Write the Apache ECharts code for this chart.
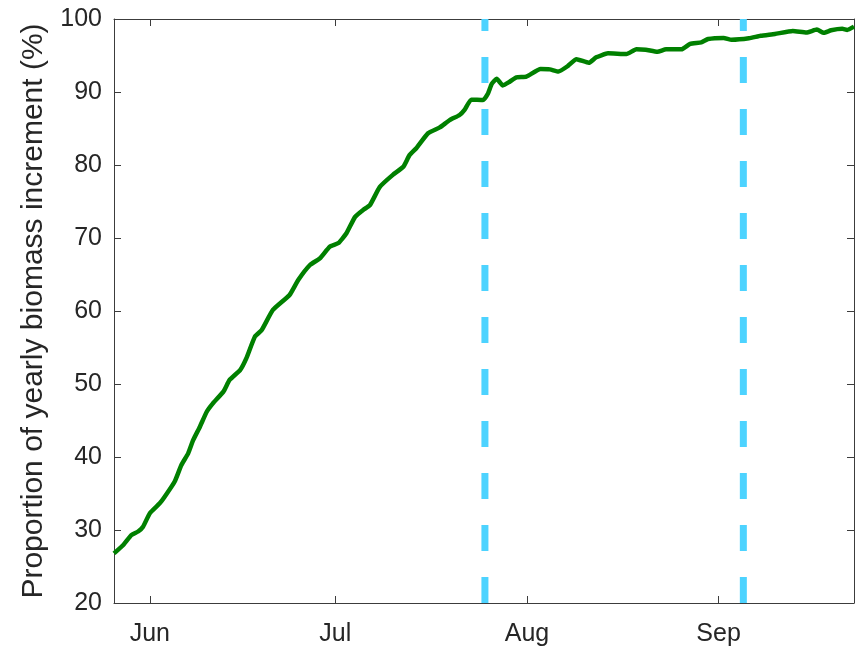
<!DOCTYPE html>
<html>
<head>
<meta charset="utf-8">
<script src="https://cdn.jsdelivr.net/npm/echarts@6/dist/echarts.min.js"></script>
<style>
html,body{margin:0;padding:0;background:#fff;}
#chart{width:866px;height:649px;}
</style>
</head>
<body>
<div id="chart"></div>
<script>
// Day of year (non-leap) for each sampled point
const days = [146.2,147.7,149.0,150.1,150.9,152.0,153.6,154.4,156.0,157.1,
  158.2,159.0,160.1,161.2,162.2,163.9,164.9,166.6,167.6,169.0,
  170.1,171.9,174.6,176.0,177.9,179.5,181.1,182.5,183.8,185.2,
  186.5,187.6,189.2,191.3,193.0,194.0,195.1,197.0,198.9,200.5,
  202.1,202.9,204.0,205.9,206.7,207.3,208.1,209.1,210.2,211.3,
  212.9,215.2,216.7,218.1,219.6,221.0,223.0,224.2,226.1,229.1,
  230.7,232.2,234.1,235.5,238.0,239.4,241.2,242.3,244.8,246.1,
  248.9,250.8,253.1,256.0,258.2,259.9,261.0,262.2,264.0,264.8,265.9];
// Proportion of yearly biomass increment (%)
const values = [26.8,27.95,29.3,29.8,30.45,32.3,33.65,34.55,36.6,38.9,
  40.5,42.3,44.15,46.2,47.35,48.95,50.55,51.9,53.5,56.5,
  57.4,60.15,62.2,64.25,66.3,67.2,68.8,69.3,70.65,72.9,
  73.85,74.5,77.0,78.65,79.75,81.35,82.3,84.35,85.15,86.15,
  86.85,87.55,88.95,88.9,89.8,91.1,91.8,90.9,91.4,92.0,
  92.1,93.15,93.1,92.8,93.55,94.5,94.0,94.75,95.3,95.2,
  95.85,95.8,95.5,95.85,95.85,96.6,96.8,97.25,97.4,97.15,
  97.35,97.7,97.95,98.35,98.15,98.55,98.1,98.45,98.65,98.5,98.95];
// Month ticks (day of year) and labels
const monthStarts = [152, 182, 213, 244];
const monthLabels = ['Jun', 'Jul', 'Aug', 'Sep'];
// Vertical dashed reference lines (day of year)
const markerDays = [206.2, 248.0];
const xRange = [146.2, 265.9];
const yRange = [20, 100];
const yTickStep = 10;

const font = "'Liberation Sans', Arial, Helvetica, sans-serif";
const axisColor = '#3c3c3c';
const textColor = '#262626';

const lineData = days.map((d, i) => [d, values[i]]);

const markerSeries = markerDays.map(d => ({
  type: 'line',
  data: [[d, yRange[0]], [d, yRange[1]]],
  symbol: 'none',
  silent: true,
  z: 2,
  lineStyle: { color: '#4dd3ff', width: 7, type: [26, 26], cap: 'butt' }
}));

const chart = echarts.init(document.getElementById('chart'), null, { renderer: 'canvas' });
chart.setOption({
  animation: false,
  backgroundColor: '#ffffff',
  grid: { left: 114, right: 12, top: 19, bottom: 46, containLabel: false },
  xAxis: [{
    type: 'value',
    min: xRange[0], max: xRange[1],
    axisLine: { show: true, lineStyle: { color: axisColor, width: 1 } },
    axisTick: { show: true, inside: true, length: 7, customValues: monthStarts, lineStyle: { color: axisColor } },
    axisLabel: {
      show: true, customValues: monthStarts, margin: 19,
      fontFamily: font, fontSize: 25, color: textColor,
      formatter: v => monthLabels[monthStarts.indexOf(Math.round(v))] || ''
    },
    splitLine: { show: false }
  }, {
    type: 'value', position: 'top',
    min: xRange[0], max: xRange[1],
    axisLine: { show: true, onZero: false, lineStyle: { color: axisColor, width: 1 } },
    axisTick: { show: true, inside: true, length: 7, customValues: monthStarts, lineStyle: { color: axisColor } },
    axisLabel: { show: false },
    splitLine: { show: false }
  }],
  yAxis: [{
    type: 'value',
    min: yRange[0], max: yRange[1], interval: yTickStep,
    name: 'Proportion of yearly biomass increment (%)',
    nameLocation: 'middle', nameGap: 65, nameRotate: 90,
    nameTextStyle: { fontFamily: font, fontSize: 30, color: textColor },
    axisLine: { show: true, lineStyle: { color: axisColor, width: 1 } },
    axisTick: { show: true, inside: true, length: 7, lineStyle: { color: axisColor } },
    axisLabel: { margin: 12, fontFamily: font, fontSize: 25, color: textColor },
    splitLine: { show: false }
  }, {
    type: 'value', position: 'right',
    min: yRange[0], max: yRange[1], interval: yTickStep,
    axisLine: { show: true, onZero: false, lineStyle: { color: axisColor, width: 1 } },
    axisTick: { show: true, inside: true, length: 7, lineStyle: { color: axisColor } },
    axisLabel: { show: false },
    splitLine: { show: false }
  }],
  series: [
    ...markerSeries,
    {
      type: 'line',
      data: lineData,
      symbol: 'none',
      smooth: 0.15,
      z: 3,
      lineStyle: { color: '#008000', width: 4.5, join: 'round' }
    }
  ]
});
</script>
</body>
</html>
